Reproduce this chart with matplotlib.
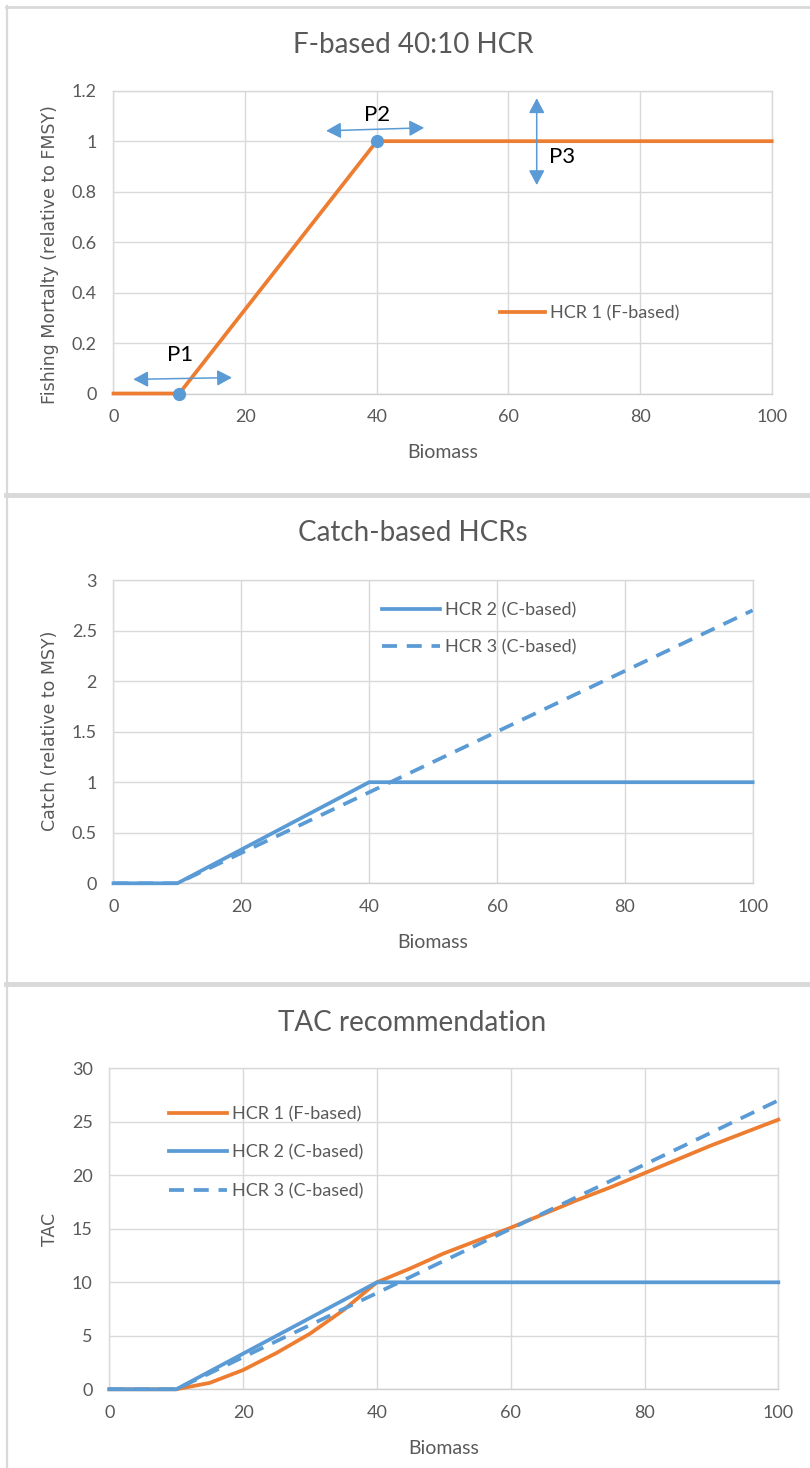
import matplotlib
matplotlib.use("Agg")
import matplotlib.pyplot as plt
from matplotlib.lines import Line2D

plt.rcParams['font.family'] = ['Lato', 'DejaVu Sans']

# ---------------- data ----------------
biomass_f = [0, 10, 40, 100]
hcr1_f = [0, 0, 1, 1]
ref_points_x = [10, 40]
ref_points_y = [0, 1]

biomass_c = [0, 10, 40, 100]
hcr2_c = [0, 0, 1, 1]
biomass_c3 = [0, 10, 20, 30, 40, 50, 60, 70, 80, 90, 100]
hcr3_c = [0, 0, 0.3, 0.6, 0.9, 1.2, 1.5, 1.8, 2.1, 2.4, 2.7]

biomass_tac = [0, 5, 10, 15, 20, 25, 30, 35, 40, 45, 50, 55, 60, 65, 70, 75, 80, 85, 90, 95, 100]
tac_hcr1 = [0, 0, 0, 0.6, 1.8, 3.4, 5.2, 7.4, 10, 11.3, 12.7, 13.9, 15.1, 16.4, 17.7, 18.9, 20.2, 21.5, 22.8, 24.0, 25.2]
tac_hcr2_x = [0, 10, 40, 100]
tac_hcr2 = [0, 0, 10, 10]
tac_hcr3 = [0, 0, 0, 1.5, 3, 4.5, 6, 7.5, 9, 10.5, 12, 13.5, 15, 16.5, 18, 19.5, 21, 22.5, 24, 25.5, 27]

x_ticks = [0, 20, 40, 60, 80, 100]
y1_ticks = [0, 0.2, 0.4, 0.6, 0.8, 1.0, 1.2]
y1_labels = ['0', '0.2', '0.4', '0.6', '0.8', '1', '1.2']
y2_ticks = [0, 0.5, 1, 1.5, 2, 2.5, 3]
y2_labels = ['0', '0.5', '1', '1.5', '2', '2.5', '3']
y3_ticks = [0, 5, 10, 15, 20, 25, 30]

# annotation arrows (P1, P2 horizontal; P3 vertical)
p_labels = ['P1', 'P2', 'P3']
p_text_x = [10.1, 40.1, 68.2]
p_text_y = [0.153, 1.104, 0.939]
arrow_start_x = [3.0, 32.3, 64.3]
arrow_start_y = [0.056, 1.041, 0.826]
arrow_end_x = [18.0, 47.2, 64.3]
arrow_end_y = [0.063, 1.053, 1.170]

ORANGE = '#ED7D31'
BLUE = '#5B9BD5'
GRID = '#D9D9D9'
TXT = '#595959'
LW = 2.7
TICK_FS = 13
LEG_FS = 13

W, H = 810, 1468
fig = plt.figure(figsize=(W / 100, H / 100), dpi=100)


def fx(px):
    return px / W


def fy(py):
    return 1 - py / H


def make_ax(left, right, top, bottom):
    ax = fig.add_axes([fx(left), fy(bottom), fx(right - left), (bottom - top) / H])
    ax.set_xlim(0, 100)
    ax.set_xticks(x_ticks)
    ax.grid(True, color=GRID, lw=1.0)
    ax.set_axisbelow(True)
    for s in ax.spines.values():
        s.set_color(GRID)
        s.set_linewidth(1.0)
        s.set_zorder(0.6)
    ax.spines['bottom'].set_color('#D0D0D0')
    ax.tick_params(length=0, labelsize=TICK_FS, labelcolor=TXT)
    ax.tick_params(axis='x', pad=11)
    ax.tick_params(axis='y', pad=12)
    return ax


# separators / chart borders
for yy, lw in [(7, 2.0), (495, 3.5), (984, 3.5)]:
    fig.add_artist(Line2D([fx(6), 1], [fy(yy), fy(yy)], color=GRID, lw=lw))
fig.add_artist(Line2D([fx(7), fx(7)], [fy(6), 0], color=GRID, lw=1.6))

# ---------------- panel 1 ----------------
ax1 = make_ax(113.5, 771.7, 90.7, 393.5)
ax1.set_ylim(0, 1.2)
ax1.set_yticks(y1_ticks)
ax1.set_yticklabels(y1_labels)
ax1.plot(biomass_f, hcr1_f, color=ORANGE, lw=LW, label='HCR 1 (F-based)', clip_on=False, zorder=3)
ax1.plot(ref_points_x, ref_points_y, 'o', color=BLUE, ms=8.5, zorder=5, clip_on=False)
for lab, tx, ty, sx, sy, ex, ey in zip(p_labels, p_text_x, p_text_y, arrow_start_x, arrow_start_y,
                                        arrow_end_x, arrow_end_y):
    ax1.annotate('', xy=(ex, ey), xytext=(sx, sy),
                 arrowprops=dict(arrowstyle='<|-|>,head_length=0.45,head_width=0.24',
                                 mutation_scale=20, color=BLUE, lw=1.1,
                                 shrinkA=0, shrinkB=0))
    ax1.text(tx, ty, lab, fontsize=16, color='black', ha='center', va='center')
ax1.legend(loc='center left', bbox_to_anchor=(0.587, 0.266), frameon=False,
           borderaxespad=0, borderpad=0, handlelength=2.5, handletextpad=0.3,
           fontsize=LEG_FS, labelcolor=TXT)
fig.text(fx(413), fy(45), 'F-based 40:10 HCR', fontsize=20, color=TXT, ha='center', va='center')
fig.text(fx(442.6), fy(453), 'Biomass', fontsize=14, color=TXT, ha='center', va='center')
fig.text(fx(50), fy(255), 'Fishing Mortalty (relative to FMSY)', fontsize=12.5, color=TXT,
         ha='center', va='center', rotation=90, family='DejaVu Sans')

# ---------------- panel 2 ----------------
ax2 = make_ax(113.5, 752.6, 580, 883.3)
ax2.set_ylim(0, 3)
ax2.set_yticks(y2_ticks)
ax2.set_yticklabels(y2_labels)
ax2.plot(biomass_c, hcr2_c, color=BLUE, lw=LW, label='HCR 2 (C-based)', clip_on=False, zorder=3)
ax2.plot(biomass_c3, hcr3_c, color=BLUE, lw=LW, dashes=(4, 2.6), dash_capstyle='butt',
         label='HCR 3 (C-based)', zorder=3)
ax2.legend(loc='center left', bbox_to_anchor=(0.42, 0.839), frameon=False,
           borderaxespad=0, borderpad=0, handlelength=3.2, handletextpad=0.3,
           labelspacing=1.15, fontsize=LEG_FS, labelcolor=TXT)
fig.text(fx(413), fy(533), 'Catch-based HCRs', fontsize=20, color=TXT, ha='center', va='center')
fig.text(fx(433), fy(942), 'Biomass', fontsize=14, color=TXT, ha='center', va='center')
fig.text(fx(50), fy(731), 'Catch (relative to MSY)', fontsize=12.5, color=TXT,
         ha='center', va='center', rotation=90, family='DejaVu Sans')

# ---------------- panel 3 ----------------
ax3 = make_ax(109.3, 778.3, 1068.3, 1389.3)
ax3.set_ylim(0, 30)
ax3.set_yticks(y3_ticks)
ax3.plot(biomass_tac, tac_hcr1, color=ORANGE, lw=LW, label='HCR 1 (F-based)', clip_on=False, zorder=3)
ax3.plot(tac_hcr2_x, tac_hcr2, color=BLUE, lw=LW, label='HCR 2 (C-based)', clip_on=False, zorder=3)
ax3.plot(biomass_tac, tac_hcr3, color=BLUE, lw=LW, dashes=(4, 2.6), dash_capstyle='butt',
         label='HCR 3 (C-based)', zorder=3)
ax3.legend(loc='center left', bbox_to_anchor=(0.089, 0.737), frameon=False,
           borderaxespad=0, borderpad=0, handlelength=3.2, handletextpad=0.3,
           labelspacing=1.25, fontsize=LEG_FS, labelcolor=TXT)
fig.text(fx(412.5), fy(1023), 'TAC recommendation', fontsize=20, color=TXT, ha='center', va='center')
fig.text(fx(443.8), fy(1448), 'Biomass', fontsize=14, color=TXT, ha='center', va='center')
fig.text(fx(50), fy(1229), 'TAC', fontsize=12.5, color=TXT,
         ha='center', va='center', rotation=90, family='DejaVu Sans')

fig.savefig('out.png', dpi=100, facecolor='white')
